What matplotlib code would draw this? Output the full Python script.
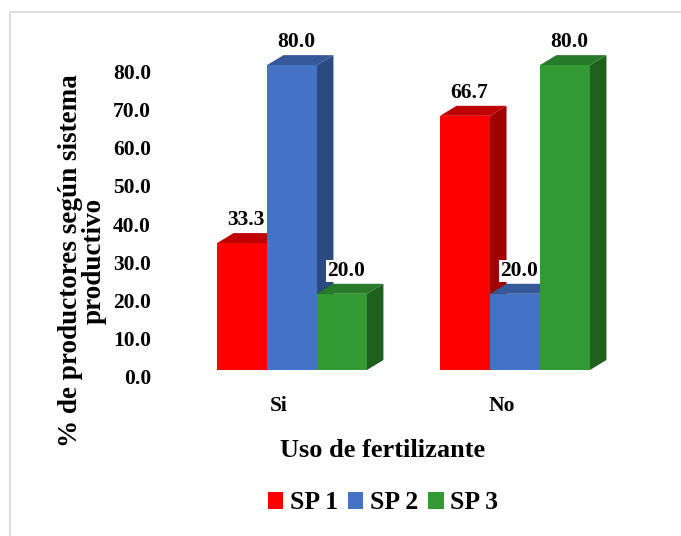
import matplotlib
matplotlib.use("Agg")
import matplotlib.pyplot as plt
from matplotlib.patches import Rectangle, Polygon, Patch
from matplotlib.transforms import ScaledTranslation

plt.rcParams["font.family"] = ["Liberation Serif", "DejaVu Serif"]
plt.rcParams["font.weight"] = "bold"

# Porcentaje de productores por sistema productivo
categorias = ["Si", "No"]
series = ["SP 1", "SP 2", "SP 3"]
sp1 = [33.3, 66.7]
sp2 = [80.0, 20.0]
sp3 = [20.0, 80.0]
valores = [sp1, sp2, sp3]
y_ticks = [0, 10, 20, 30, 40, 50, 60, 70, 80]

# colores: frente, techo, lateral
colores = [
    ("#FF0000", "#C00000", "#A00000"),
    ("#4472C4", "#34589A", "#2B4A80"),
    ("#339933", "#277A27", "#1F601F"),
]

fig = plt.figure(figsize=(6.81, 5.36), dpi=100)
ax = fig.add_axes([0.265, 0.3097, 0.655, 0.6399])
ax.set_xlim(-0.5, 1.5)
ax.set_ylim(0, 90)

ancho = 0.224
dx = 0.074   # profundidad horizontal del efecto 3D
dy = 2.62    # profundidad vertical del efecto 3D

for i, (vals, (c_front, c_top, c_side)) in enumerate(zip(valores, colores)):
    for j, v in enumerate(vals):
        x0 = j + (i - 1) * ancho - ancho / 2
        side = Polygon([(x0 + ancho, 0), (x0 + ancho + dx, dy),
                        (x0 + ancho + dx, v + dy), (x0 + ancho, v)],
                       closed=True, facecolor=c_side, edgecolor="none")
        top = Polygon([(x0, v), (x0 + dx, v + dy),
                       (x0 + ancho + dx, v + dy), (x0 + ancho, v)],
                      closed=True, facecolor=c_top, edgecolor="none")
        front = Rectangle((x0, 0), ancho, v, facecolor=c_front, edgecolor="none")
        ax.add_patch(side)
        ax.add_patch(top)
        ax.add_patch(front)
        ax.annotate(f"{v:.1f}", xy=(x0 + ancho / 2 + dx / 4, v + dy),
                    xytext=(0, 2), textcoords="offset points",
                    ha="center", va="bottom", fontsize=15.5, fontweight="bold",
                    bbox=dict(boxstyle="square,pad=0.05", fc="white", ec="none"),
                    zorder=5)

# etiquetas del eje Y, algo mas abajo que el frente de las barras
off_y = ScaledTranslation(0, -9 / 100, fig.dpi_scale_trans)
for t in y_ticks:
    ax.text(-0.066, t, f"{t:.1f}", transform=ax.get_yaxis_transform() + off_y,
            ha="right", va="center", fontsize=15.5, fontweight="bold")

ax.set_xticks(range(len(categorias)))
ax.set_xticklabels(categorias, fontsize=15.5, fontweight="bold")
ax.tick_params(axis="x", length=0, pad=19)
off_x = ScaledTranslation(-13 / 100, 0, fig.dpi_scale_trans)
for lab in ax.get_xticklabels():
    lab.set_transform(lab.get_transform() + off_x)
ax.set_yticks([])
for s in ax.spines.values():
    s.set_visible(False)

fig.text(0.5624, 0.160, "Uso de fertilizante", ha="center", va="center",
         fontsize=19, fontweight="bold")
fig.text(0.121, 0.513, "% de productores según sistema\nproductivo",
         ha="center", va="center", rotation=90, fontsize=19.5,
         fontweight="bold", linespacing=0.95)

handles = [Patch(facecolor=c[0], edgecolor="none") for c in colores]
fig.legend(handles, series, loc="center", bbox_to_anchor=(0.5624, 0.0616),
           ncol=3, frameon=False, prop={"size": 18.5, "weight": "bold"},
           handlelength=0.6, handleheight=0.6, handletextpad=0.25,
           columnspacing=0.4)

# marco del area del grafico
fig.patches.append(Rectangle((10 / 681, -0.1), 1.2, 0.9776 + 0.1,
                             transform=fig.transFigure, fill=False,
                             edgecolor="#D9D9D9", linewidth=1.2))

fig.savefig("out.png", dpi=100)
